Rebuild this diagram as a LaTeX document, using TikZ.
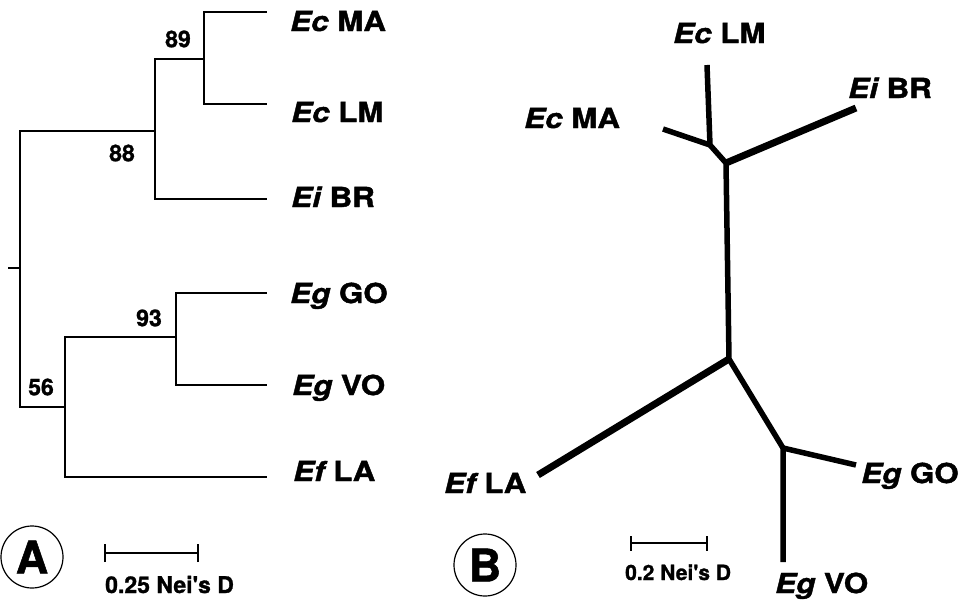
\documentclass[tikz,border=0pt]{standalone}
\usepackage{fontspec}
\setmainfont{TeX Gyre Heros}[FakeBold=1.2]
\newfontfamily\widefont[FakeStretch=1.14,FakeBold=1.5]{TeX Gyre Heros}
\begin{document}
\begin{tikzpicture}[x=1pt,y=-1pt,
  thinline/.style={line width=1.3pt},
  br/.style={line width=5.5pt},
  brthick/.style={line width=7pt},
  leaf/.style={font=\widefont\bfseries\fontsize{27.5}{27.5}\selectfont, anchor=base west, inner sep=0pt},
  boot/.style={font=\bfseries\fontsize{23}{23}\selectfont, inner sep=0pt},
  scaletext/.style={font=\bfseries\fontsize{#1}{#1}\selectfont, anchor=base west, inner sep=0pt},
  panel/.style={circle, draw, line width=1.2pt, minimum size=62pt, inner sep=0pt, font=\bfseries\fontsize{45}{45}\selectfont}]
\useasboundingbox (0,0) rectangle (964,603);
% ---------- Panel A ----------
\coordinate (tick) at (8,268);
\coordinate (rA) at (20,268);
\coordinate (a88) at (155,131);
\coordinate (a89) at (204,59);
\coordinate (a56) at (65,407);
\coordinate (a93) at (176,337);
\coordinate (lMA) at (267,12);
\coordinate (lLM) at (267,104);
\coordinate (lBR) at (267,199);
\coordinate (lGO) at (267,293);
\coordinate (lVO) at (267,385);
\coordinate (lLA) at (267,477);
\draw[thinline] (tick) -- (rA);
\draw[thinline] (rA) |- (a88);
\draw[thinline] (rA) |- (a56);
\draw[thinline] (a88) |- (a89);
\draw[thinline] (a88) |- (lBR);
\draw[thinline] (a89) |- (lMA);
\draw[thinline] (a89) |- (lLM);
\draw[thinline] (a56) |- (a93);
\draw[thinline] (a56) |- (lLA);
\draw[thinline] (a93) |- (lGO);
\draw[thinline] (a93) |- (lVO);
\node[boot] (t89) at (178,39) {89};
\node[boot] (t88) at (122,153) {88};
\node[boot] (t93) at (149,318) {93};
\node[boot] (t56) at (41,387) {56};
\node[leaf] (AMA) at (290,31) {{\itshape Ec} MA};
\node[leaf] (ALM) at (291,122) {{\itshape Ec} LM};
\node[leaf] (ABR) at (291,207) {{\itshape Ei} BR};
\node[leaf] (AGO) at (290,303) {{\itshape Eg} GO};
\node[leaf] (AVO) at (292,395) {{\itshape Eg} VO};
\node[leaf] (ALA) at (293,481) {{\itshape Ef} LA};
\node[panel] (pA) at (32,557) {A};
\coordinate (sA1) at (105,553);
\coordinate (sA2) at (198,553);
\draw[thinline] (sA1) -- (sA2);
\draw[thinline] ([yshift=-9pt]sA1) -- ([yshift=9pt]sA1);
\draw[thinline] ([yshift=-9pt]sA2) -- ([yshift=9pt]sA2);
\node[scaletext=23] (sAt) at (105,593) {0.25 Nei\textquotesingle s D};
% ---------- Panel B ----------
\coordinate (b1) at (710,145);
\coordinate (b2) at (726,163);
\coordinate (b3) at (729,359);
\coordinate (b4) at (783,448);
\coordinate (eLM) at (707,65);
\coordinate (eMA) at (663,129);
\coordinate (eBR) at (856,108);
\coordinate (eLA) at (538,475);
\coordinate (eGO) at (856,465);
\coordinate (eVO) at (783,562);
\draw[br] (eLM) -- (b1) -- (b2) -- (b3) -- (b4) -- (eVO);
\draw[br] (eMA) -- (b1);
\draw[brthick] (b2) -- (eBR);
\draw[brthick] (b3) -- (eLA);
\draw[br] (b4) -- (eGO);
\node[leaf] (BLM) at (673,43) {{\itshape Ec} LM};
\node[leaf] (BBR) at (848,98) {{\itshape Ei} BR};
\node[leaf] (BMA) at (524,128) {{\itshape Ec} MA};
\node[leaf] (BLA) at (444,493) {{\itshape Ef} LA};
\node[leaf] (BGO) at (861,483) {{\itshape Eg} GO};
\node[leaf] (BVO) at (775,593) {{\itshape Eg} VO};
\node[panel] (pB) at (485,565) {B};
\coordinate (sB1) at (631,543);
\coordinate (sB2) at (707,543);
\draw[thinline] (sB1) -- (sB2);
\draw[thinline] ([yshift=-7.5pt]sB1) -- ([yshift=7.5pt]sB1);
\draw[thinline] ([yshift=-7.5pt]sB2) -- ([yshift=7.5pt]sB2);
\node[scaletext=21] (sBt) at (625,580) {0.2 Nei\textquotesingle s D};
\end{tikzpicture}
\end{document}
